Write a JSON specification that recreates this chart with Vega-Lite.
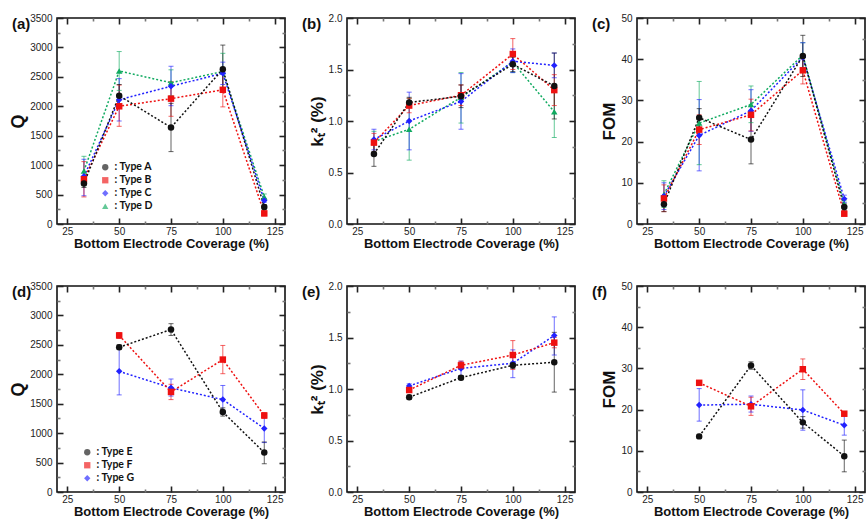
{
  "$schema": "https://vega.github.io/schema/vega-lite/v6.json",
  "background": "white",
  "padding": {"left": 8, "top": 12, "right": 0, "bottom": 0},
  "config": {
    "view": {"stroke": "#111", "strokeWidth": 1.6},
    "font": "Liberation Sans",
    "axis": {"domain": false, "grid": false, "ticks": true, "tickColor": "#222", "tickWidth": 1.6, "zindex": 1, "labelFont": "Liberation Sans", "labelFontSize": 10, "labelColor": "#222", "labelFlush": false, "labelOverlap": false, "titleFont": "Liberation Sans", "titleFontWeight": "bold", "titleColor": "#111"},
    "axisBottom": {"labelPadding": 2, "titleFontSize": 13, "titlePadding": 1},
    "axisLeft": {"labelPadding": 5, "titleFontSize": 18, "titlePadding": 2},
    "title": {"font": "Liberation Sans", "fontSize": 15, "fontWeight": "bold", "anchor": "start", "frame": "group", "offset": -12, "dx": -45, "dy": 7, "baseline": "alphabetic", "color": "#111"},
    "legend": {"labelFont": "Lato", "labelFontWeight": "bold", "labelFontSize": 10.5, "labelColor": "#111", "rowPadding": 2, "symbolSize": 40, "symbolStrokeWidth": 0}
  },
  "data": {"values": [
    {"p":"a","t":"Type D","x":33,"y":900,"lo":650,"hi":1150},
    {"p":"a","t":"Type D","x":50,"y":2600,"lo":2270,"hi":2930},
    {"p":"a","t":"Type D","x":75,"y":2400,"lo":2180,"hi":2620},
    {"p":"a","t":"Type D","x":100,"y":2590,"lo":2280,"hi":2900},
    {"p":"a","t":"Type D","x":120,"y":460,"lo":420,"hi":510},
    {"p":"a","t":"Type C","x":33,"y":810,"lo":480,"hi":1100},
    {"p":"a","t":"Type C","x":50,"y":2110,"lo":1750,"hi":2470},
    {"p":"a","t":"Type C","x":75,"y":2340,"lo":2010,"hi":2680},
    {"p":"a","t":"Type C","x":100,"y":2560,"lo":2370,"hi":2750},
    {"p":"a","t":"Type C","x":120,"y":400,"lo":370,"hi":430},
    {"p":"a","t":"Type B","x":33,"y":760,"lo":460,"hi":1060},
    {"p":"a","t":"Type B","x":50,"y":2000,"lo":1660,"hi":2360},
    {"p":"a","t":"Type B","x":75,"y":2130,"lo":1830,"hi":2420},
    {"p":"a","t":"Type B","x":100,"y":2280,"lo":1990,"hi":2580},
    {"p":"a","t":"Type B","x":120,"y":180,"lo":140,"hi":220},
    {"p":"a","t":"Type A","x":33,"y":690,"lo":620,"hi":760},
    {"p":"a","t":"Type A","x":50,"y":2180,"lo":1990,"hi":2370},
    {"p":"a","t":"Type A","x":75,"y":1640,"lo":1230,"hi":2050},
    {"p":"a","t":"Type A","x":100,"y":2630,"lo":2250,"hi":3040},
    {"p":"a","t":"Type A","x":120,"y":290,"lo":250,"hi":330},
    {"p":"b","t":"Type D","x":33,"y":0.80,"lo":0.70,"hi":0.90},
    {"p":"b","t":"Type D","x":50,"y":0.92,"lo":0.62,"hi":1.22},
    {"p":"b","t":"Type D","x":75,"y":1.23,"lo":0.98,"hi":1.47},
    {"p":"b","t":"Type D","x":100,"y":1.57,"lo":1.47,"hi":1.67},
    {"p":"b","t":"Type D","x":120,"y":1.09,"lo":0.84,"hi":1.32},
    {"p":"b","t":"Type C","x":33,"y":0.82,"lo":0.72,"hi":0.92},
    {"p":"b","t":"Type C","x":50,"y":1.00,"lo":0.72,"hi":1.28},
    {"p":"b","t":"Type C","x":75,"y":1.19,"lo":0.92,"hi":1.46},
    {"p":"b","t":"Type C","x":100,"y":1.58,"lo":1.47,"hi":1.70},
    {"p":"b","t":"Type C","x":120,"y":1.54,"lo":1.42,"hi":1.66},
    {"p":"b","t":"Type B","x":33,"y":0.79,"lo":0.70,"hi":0.88},
    {"p":"b","t":"Type B","x":50,"y":1.15,"lo":1.08,"hi":1.22},
    {"p":"b","t":"Type B","x":75,"y":1.25,"lo":1.15,"hi":1.35},
    {"p":"b","t":"Type B","x":100,"y":1.65,"lo":1.50,"hi":1.80},
    {"p":"b","t":"Type B","x":120,"y":1.30,"lo":1.15,"hi":1.45},
    {"p":"b","t":"Type A","x":33,"y":0.68,"lo":0.56,"hi":0.80},
    {"p":"b","t":"Type A","x":50,"y":1.18,"lo":1.13,"hi":1.23},
    {"p":"b","t":"Type A","x":75,"y":1.24,"lo":1.13,"hi":1.35},
    {"p":"b","t":"Type A","x":100,"y":1.55,"lo":1.48,"hi":1.62},
    {"p":"b","t":"Type A","x":120,"y":1.34,"lo":1.02,"hi":1.66},
    {"p":"c","t":"Type D","x":33,"y":7.2,"lo":4.0,"hi":10.5},
    {"p":"c","t":"Type D","x":50,"y":24.5,"lo":14.4,"hi":34.6},
    {"p":"c","t":"Type D","x":75,"y":29.0,"lo":24.6,"hi":33.5},
    {"p":"c","t":"Type D","x":100,"y":41.0,"lo":38.0,"hi":44.0},
    {"p":"c","t":"Type D","x":120,"y":4.8,"lo":4.0,"hi":5.6},
    {"p":"c","t":"Type C","x":33,"y":6.8,"lo":3.5,"hi":10.0},
    {"p":"c","t":"Type C","x":50,"y":21.5,"lo":12.9,"hi":30.2},
    {"p":"c","t":"Type C","x":75,"y":27.5,"lo":22.5,"hi":32.6},
    {"p":"c","t":"Type C","x":100,"y":40.5,"lo":37.0,"hi":44.0},
    {"p":"c","t":"Type C","x":120,"y":6.1,"lo":5.2,"hi":7.0},
    {"p":"c","t":"Type B","x":33,"y":6.2,"lo":3.0,"hi":9.5},
    {"p":"c","t":"Type B","x":50,"y":22.9,"lo":19.3,"hi":26.5},
    {"p":"c","t":"Type B","x":75,"y":26.5,"lo":22.6,"hi":30.3},
    {"p":"c","t":"Type B","x":100,"y":37.3,"lo":34.0,"hi":40.5},
    {"p":"c","t":"Type B","x":120,"y":2.5,"lo":2.0,"hi":3.0},
    {"p":"c","t":"Type A","x":33,"y":4.8,"lo":3.0,"hi":6.5},
    {"p":"c","t":"Type A","x":50,"y":25.8,"lo":23.5,"hi":28.0},
    {"p":"c","t":"Type A","x":75,"y":20.5,"lo":14.6,"hi":26.3},
    {"p":"c","t":"Type A","x":100,"y":40.8,"lo":35.8,"hi":45.8},
    {"p":"c","t":"Type A","x":120,"y":4.1,"lo":3.3,"hi":4.9},
    {"p":"d","t":"Type G","x":50,"y":2050,"lo":1650,"hi":2440},
    {"p":"d","t":"Type G","x":75,"y":1770,"lo":1630,"hi":1920},
    {"p":"d","t":"Type G","x":100,"y":1570,"lo":1330,"hi":1810},
    {"p":"d","t":"Type G","x":120,"y":1080,"lo":840,"hi":1320},
    {"p":"d","t":"Type F","x":50,"y":2660,"lo":2610,"hi":2710},
    {"p":"d","t":"Type F","x":75,"y":1700,"lo":1570,"hi":1830},
    {"p":"d","t":"Type F","x":100,"y":2250,"lo":2010,"hi":2490},
    {"p":"d","t":"Type F","x":120,"y":1300,"lo":1250,"hi":1350},
    {"p":"d","t":"Type E","x":50,"y":2460,"lo":2420,"hi":2500},
    {"p":"d","t":"Type E","x":75,"y":2760,"lo":2660,"hi":2860},
    {"p":"d","t":"Type E","x":100,"y":1360,"lo":1290,"hi":1430},
    {"p":"d","t":"Type E","x":120,"y":670,"lo":480,"hi":850},
    {"p":"e","t":"Type G","x":50,"y":1.03,"lo":1.01,"hi":1.05},
    {"p":"e","t":"Type G","x":75,"y":1.20,"lo":1.13,"hi":1.27},
    {"p":"e","t":"Type G","x":100,"y":1.25,"lo":1.11,"hi":1.38},
    {"p":"e","t":"Type G","x":120,"y":1.52,"lo":1.33,"hi":1.70},
    {"p":"e","t":"Type F","x":50,"y":0.99,"lo":0.97,"hi":1.01},
    {"p":"e","t":"Type F","x":75,"y":1.23,"lo":1.19,"hi":1.27},
    {"p":"e","t":"Type F","x":100,"y":1.33,"lo":1.19,"hi":1.47},
    {"p":"e","t":"Type F","x":120,"y":1.45,"lo":1.40,"hi":1.50},
    {"p":"e","t":"Type E","x":50,"y":0.92,"lo":0.90,"hi":0.94},
    {"p":"e","t":"Type E","x":75,"y":1.11,"lo":1.09,"hi":1.13},
    {"p":"e","t":"Type E","x":100,"y":1.23,"lo":1.20,"hi":1.26},
    {"p":"e","t":"Type E","x":120,"y":1.26,"lo":0.97,"hi":1.55},
    {"p":"f","t":"Type G","x":50,"y":21.1,"lo":17.2,"hi":25.1},
    {"p":"f","t":"Type G","x":75,"y":21.3,"lo":19.4,"hi":23.3},
    {"p":"f","t":"Type G","x":100,"y":19.9,"lo":15.0,"hi":24.8},
    {"p":"f","t":"Type G","x":120,"y":16.2,"lo":13.8,"hi":18.6},
    {"p":"f","t":"Type F","x":50,"y":26.5,"lo":26.0,"hi":27.0},
    {"p":"f","t":"Type F","x":75,"y":20.8,"lo":18.6,"hi":23.0},
    {"p":"f","t":"Type F","x":100,"y":29.8,"lo":27.3,"hi":32.3},
    {"p":"f","t":"Type F","x":120,"y":19.0,"lo":18.5,"hi":19.5},
    {"p":"f","t":"Type E","x":50,"y":13.5,"lo":13.0,"hi":14.0},
    {"p":"f","t":"Type E","x":75,"y":30.7,"lo":29.8,"hi":31.6},
    {"p":"f","t":"Type E","x":100,"y":16.9,"lo":15.5,"hi":18.3},
    {"p":"f","t":"Type E","x":120,"y":8.7,"lo":4.9,"hi":12.6}
  ]},
  "columns": 3,
  "spacing": 62,
  "bounds": "flush",
  "resolve": {"scale": {"x": "independent", "y": "independent", "color": "independent", "shape": "independent"}},
  "concat": [
    {
      "width": 228, "height": 206, "title": "(a)",
      "transform": [{"filter": "datum.p == 'a'"}],
      "resolve": {"axis": {"x": "independent", "y": "independent"}},
      "layer": [
        {"mark": {"type": "rule", "strokeWidth": 1, "opacity": 0.65},
         "encoding": {
           "x": {"field": "x", "type": "quantitative", "scale": {"domain": [25, 125]}, "axis": {"orient": "bottom", "title": "Bottom Electrode Coverage (%)", "values": [25, 50, 75, 100, 125], "tickSize": 6, "offset": -6}},
           "y": {"field": "lo", "type": "quantitative", "scale": {"domain": [0, 3500]}, "axis": {"orient": "left", "title": "Q", "format": "d", "values": [0, 500, 1000, 1500, 2000, 2500, 3000, 3500], "tickSize": 6, "offset": -6}},
           "y2": {"field": "hi"},
           "color": {"field": "t", "type": "nominal", "scale": {"domain": ["Type A", "Type B", "Type C", "Type D"], "range": ["#111111", "#ee1111", "#2222ff", "#10aa60"]}, "legend": {"title": null, "orient": "none", "legendX": 43, "legendY": 144, "labelExpr": "': ' + datum.label"}}
         }},
        {"mark": {"type": "tick", "orient": "horizontal", "size": 5, "thickness": 1, "opacity": 0.65},
         "encoding": {
           "x": {"field": "x", "type": "quantitative", "axis": {"orient": "top", "title": null, "labels": false, "values": [25, 50, 75, 100, 125], "tickSize": 6, "offset": -6}},
           "y": {"field": "lo", "type": "quantitative", "axis": {"orient": "right", "title": null, "labels": false, "values": [0, 500, 1000, 1500, 2000, 2500, 3000, 3500], "tickSize": 6, "offset": -6}},
           "color": {"field": "t", "type": "nominal", "legend": {"title": null, "orient": "none", "legendX": 43, "legendY": 144, "labelExpr": "': ' + datum.label"}}
         }},
        {"mark": {"type": "tick", "orient": "horizontal", "size": 5, "thickness": 1, "opacity": 0.65},
         "encoding": {
           "x": {"field": "x", "type": "quantitative", "axis": {"orient": "bottom", "title": null, "labels": false, "values": [37.5, 62.5, 87.5, 112.5], "tickSize": 3, "offset": -3, "tickColor": "#777"}},
           "y": {"field": "hi", "type": "quantitative", "axis": {"orient": "left", "title": null, "labels": false, "values": [250, 750, 1250, 1750, 2250, 2750, 3250], "tickSize": 3, "offset": -3, "tickColor": "#777"}},
           "color": {"field": "t", "type": "nominal", "legend": {"title": null, "orient": "none", "legendX": 43, "legendY": 144, "labelExpr": "': ' + datum.label"}}
         }},
        {"mark": {"type": "line", "strokeDash": [2, 2], "strokeWidth": 1.5},
         "encoding": {
           "x": {"field": "x", "type": "quantitative", "axis": {"orient": "top", "title": null, "labels": false, "values": [37.5, 62.5, 87.5, 112.5], "tickSize": 3, "offset": -3, "tickColor": "#777"}},
           "y": {"field": "y", "type": "quantitative", "axis": {"orient": "right", "title": null, "labels": false, "values": [250, 750, 1250, 1750, 2250, 2750, 3250], "tickSize": 3, "offset": -3, "tickColor": "#777"}},
           "color": {"field": "t", "type": "nominal", "legend": {"title": null, "orient": "none", "legendX": 43, "legendY": 144, "labelExpr": "': ' + datum.label"}}
         }},
        {"mark": {"type": "point", "filled": true, "opacity": 1, "size": 42},
         "encoding": {
           "x": {"field": "x", "type": "quantitative", "axis": null},
           "y": {"field": "y", "type": "quantitative", "axis": null},
           "color": {"field": "t", "type": "nominal", "legend": {"title": null, "orient": "none", "legendX": 43, "legendY": 144, "labelExpr": "': ' + datum.label"}},
           "shape": {"field": "t", "type": "nominal", "scale": {"domain": ["Type A", "Type B", "Type C", "Type D"], "range": ["circle", "square", "diamond", "triangle-up"]}, "legend": {"title": null, "orient": "none", "legendX": 43, "legendY": 144, "labelExpr": "': ' + datum.label"}}
         }}
      ]
    },
    {
      "width": 228, "height": 206, "title": "(b)",
      "transform": [{"filter": "datum.p == 'b'"}],
      "resolve": {"axis": {"x": "independent", "y": "independent"}},
      "layer": [
        {"mark": {"type": "rule", "strokeWidth": 1, "opacity": 0.65},
         "encoding": {
           "x": {"field": "x", "type": "quantitative", "scale": {"domain": [25, 125]}, "axis": {"orient": "bottom", "title": "Bottom Electrode Coverage (%)", "values": [25, 50, 75, 100, 125], "tickSize": 6, "offset": -6}},
           "y": {"field": "lo", "type": "quantitative", "scale": {"domain": [0, 2]}, "axis": {"orient": "left", "title": "kₜ² (%)", "titleFontSize": 17, "format": ".1f", "values": [0, 0.5, 1, 1.5, 2], "tickSize": 6, "offset": -6}},
           "y2": {"field": "hi"},
           "color": {"field": "t", "type": "nominal", "scale": {"domain": ["Type A", "Type B", "Type C", "Type D"], "range": ["#111111", "#ee1111", "#2222ff", "#10aa60"]}, "legend": null}
         }},
        {"mark": {"type": "tick", "orient": "horizontal", "size": 5, "thickness": 1, "opacity": 0.65},
         "encoding": {
           "x": {"field": "x", "type": "quantitative", "axis": {"orient": "top", "title": null, "labels": false, "values": [25, 50, 75, 100, 125], "tickSize": 6, "offset": -6}},
           "y": {"field": "lo", "type": "quantitative", "axis": {"orient": "right", "title": null, "labels": false, "values": [0, 0.5, 1, 1.5, 2], "tickSize": 6, "offset": -6}},
           "color": {"field": "t", "type": "nominal", "legend": null}
         }},
        {"mark": {"type": "tick", "orient": "horizontal", "size": 5, "thickness": 1, "opacity": 0.65},
         "encoding": {
           "x": {"field": "x", "type": "quantitative", "axis": {"orient": "bottom", "title": null, "labels": false, "values": [37.5, 62.5, 87.5, 112.5], "tickSize": 3, "offset": -3, "tickColor": "#777"}},
           "y": {"field": "hi", "type": "quantitative", "axis": {"orient": "left", "title": null, "labels": false, "values": [0.25, 0.75, 1.25, 1.75], "tickSize": 3, "offset": -3, "tickColor": "#777"}},
           "color": {"field": "t", "type": "nominal", "legend": null}
         }},
        {"mark": {"type": "line", "strokeDash": [2, 2], "strokeWidth": 1.5},
         "encoding": {
           "x": {"field": "x", "type": "quantitative", "axis": {"orient": "top", "title": null, "labels": false, "values": [37.5, 62.5, 87.5, 112.5], "tickSize": 3, "offset": -3, "tickColor": "#777"}},
           "y": {"field": "y", "type": "quantitative", "axis": {"orient": "right", "title": null, "labels": false, "values": [0.25, 0.75, 1.25, 1.75], "tickSize": 3, "offset": -3, "tickColor": "#777"}},
           "color": {"field": "t", "type": "nominal", "legend": null}
         }},
        {"mark": {"type": "point", "filled": true, "opacity": 1, "size": 42},
         "encoding": {
           "x": {"field": "x", "type": "quantitative", "axis": null},
           "y": {"field": "y", "type": "quantitative", "axis": null},
           "color": {"field": "t", "type": "nominal", "legend": null},
           "shape": {"field": "t", "type": "nominal", "scale": {"domain": ["Type A", "Type B", "Type C", "Type D"], "range": ["circle", "square", "diamond", "triangle-up"]}, "legend": null}
         }}
      ]
    },
    {
      "width": 228, "height": 206, "title": "(c)",
      "transform": [{"filter": "datum.p == 'c'"}],
      "resolve": {"axis": {"x": "independent", "y": "independent"}},
      "layer": [
        {"mark": {"type": "rule", "strokeWidth": 1, "opacity": 0.65},
         "encoding": {
           "x": {"field": "x", "type": "quantitative", "scale": {"domain": [25, 125]}, "axis": {"orient": "bottom", "title": "Bottom Electrode Coverage (%)", "values": [25, 50, 75, 100, 125], "tickSize": 6, "offset": -6}},
           "y": {"field": "lo", "type": "quantitative", "scale": {"domain": [0, 50]}, "axis": {"orient": "left", "title": "FOM", "titleFontSize": 17, "values": [0, 10, 20, 30, 40, 50], "tickSize": 6, "offset": -6}},
           "y2": {"field": "hi"},
           "color": {"field": "t", "type": "nominal", "scale": {"domain": ["Type A", "Type B", "Type C", "Type D"], "range": ["#111111", "#ee1111", "#2222ff", "#10aa60"]}, "legend": null}
         }},
        {"mark": {"type": "tick", "orient": "horizontal", "size": 5, "thickness": 1, "opacity": 0.65},
         "encoding": {
           "x": {"field": "x", "type": "quantitative", "axis": {"orient": "top", "title": null, "labels": false, "values": [25, 50, 75, 100, 125], "tickSize": 6, "offset": -6}},
           "y": {"field": "lo", "type": "quantitative", "axis": {"orient": "right", "title": null, "labels": false, "values": [0, 10, 20, 30, 40, 50], "tickSize": 6, "offset": -6}},
           "color": {"field": "t", "type": "nominal", "legend": null}
         }},
        {"mark": {"type": "tick", "orient": "horizontal", "size": 5, "thickness": 1, "opacity": 0.65},
         "encoding": {
           "x": {"field": "x", "type": "quantitative", "axis": {"orient": "bottom", "title": null, "labels": false, "values": [37.5, 62.5, 87.5, 112.5], "tickSize": 3, "offset": -3, "tickColor": "#777"}},
           "y": {"field": "hi", "type": "quantitative", "axis": {"orient": "left", "title": null, "labels": false, "values": [5, 15, 25, 35, 45], "tickSize": 3, "offset": -3, "tickColor": "#777"}},
           "color": {"field": "t", "type": "nominal", "legend": null}
         }},
        {"mark": {"type": "line", "strokeDash": [2, 2], "strokeWidth": 1.5},
         "encoding": {
           "x": {"field": "x", "type": "quantitative", "axis": {"orient": "top", "title": null, "labels": false, "values": [37.5, 62.5, 87.5, 112.5], "tickSize": 3, "offset": -3, "tickColor": "#777"}},
           "y": {"field": "y", "type": "quantitative", "axis": {"orient": "right", "title": null, "labels": false, "values": [5, 15, 25, 35, 45], "tickSize": 3, "offset": -3, "tickColor": "#777"}},
           "color": {"field": "t", "type": "nominal", "legend": null}
         }},
        {"mark": {"type": "point", "filled": true, "opacity": 1, "size": 42},
         "encoding": {
           "x": {"field": "x", "type": "quantitative", "axis": null},
           "y": {"field": "y", "type": "quantitative", "axis": null},
           "color": {"field": "t", "type": "nominal", "legend": null},
           "shape": {"field": "t", "type": "nominal", "scale": {"domain": ["Type A", "Type B", "Type C", "Type D"], "range": ["circle", "square", "diamond", "triangle-up"]}, "legend": null}
         }}
      ]
    },
    {
      "width": 228, "height": 206, "title": "(d)",
      "transform": [{"filter": "datum.p == 'd'"}],
      "resolve": {"axis": {"x": "independent", "y": "independent"}},
      "layer": [
        {"mark": {"type": "rule", "strokeWidth": 1, "opacity": 0.65},
         "encoding": {
           "x": {"field": "x", "type": "quantitative", "scale": {"domain": [25, 125]}, "axis": {"orient": "bottom", "title": "Bottom Electrode Coverage (%)", "values": [25, 50, 75, 100, 125], "tickSize": 6, "offset": -6}},
           "y": {"field": "lo", "type": "quantitative", "scale": {"domain": [0, 3500]}, "axis": {"orient": "left", "title": "Q", "format": "d", "values": [0, 500, 1000, 1500, 2000, 2500, 3000, 3500], "tickSize": 6, "offset": -6}},
           "y2": {"field": "hi"},
           "color": {"field": "t", "type": "nominal", "scale": {"domain": ["Type E", "Type F", "Type G"], "range": ["#111111", "#ee1111", "#2222ff"]}, "legend": {"title": null, "orient": "none", "legendX": 25, "legendY": 161, "labelExpr": "': ' + datum.label"}}
         }},
        {"mark": {"type": "tick", "orient": "horizontal", "size": 5, "thickness": 1, "opacity": 0.65},
         "encoding": {
           "x": {"field": "x", "type": "quantitative", "axis": {"orient": "top", "title": null, "labels": false, "values": [25, 50, 75, 100, 125], "tickSize": 6, "offset": -6}},
           "y": {"field": "lo", "type": "quantitative", "axis": {"orient": "right", "title": null, "labels": false, "values": [0, 500, 1000, 1500, 2000, 2500, 3000, 3500], "tickSize": 6, "offset": -6}},
           "color": {"field": "t", "type": "nominal", "legend": {"title": null, "orient": "none", "legendX": 25, "legendY": 161, "labelExpr": "': ' + datum.label"}}
         }},
        {"mark": {"type": "tick", "orient": "horizontal", "size": 5, "thickness": 1, "opacity": 0.65},
         "encoding": {
           "x": {"field": "x", "type": "quantitative", "axis": {"orient": "bottom", "title": null, "labels": false, "values": [37.5, 62.5, 87.5, 112.5], "tickSize": 3, "offset": -3, "tickColor": "#777"}},
           "y": {"field": "hi", "type": "quantitative", "axis": {"orient": "left", "title": null, "labels": false, "values": [250, 750, 1250, 1750, 2250, 2750, 3250], "tickSize": 3, "offset": -3, "tickColor": "#777"}},
           "color": {"field": "t", "type": "nominal", "legend": {"title": null, "orient": "none", "legendX": 25, "legendY": 161, "labelExpr": "': ' + datum.label"}}
         }},
        {"mark": {"type": "line", "strokeDash": [2, 2], "strokeWidth": 1.5},
         "encoding": {
           "x": {"field": "x", "type": "quantitative", "axis": {"orient": "top", "title": null, "labels": false, "values": [37.5, 62.5, 87.5, 112.5], "tickSize": 3, "offset": -3, "tickColor": "#777"}},
           "y": {"field": "y", "type": "quantitative", "axis": {"orient": "right", "title": null, "labels": false, "values": [250, 750, 1250, 1750, 2250, 2750, 3250], "tickSize": 3, "offset": -3, "tickColor": "#777"}},
           "color": {"field": "t", "type": "nominal", "legend": {"title": null, "orient": "none", "legendX": 25, "legendY": 161, "labelExpr": "': ' + datum.label"}}
         }},
        {"mark": {"type": "point", "filled": true, "opacity": 1, "size": 42},
         "encoding": {
           "x": {"field": "x", "type": "quantitative", "axis": null},
           "y": {"field": "y", "type": "quantitative", "axis": null},
           "color": {"field": "t", "type": "nominal", "legend": {"title": null, "orient": "none", "legendX": 25, "legendY": 161, "labelExpr": "': ' + datum.label"}},
           "shape": {"field": "t", "type": "nominal", "scale": {"domain": ["Type E", "Type F", "Type G"], "range": ["circle", "square", "diamond"]}, "legend": {"title": null, "orient": "none", "legendX": 25, "legendY": 161, "labelExpr": "': ' + datum.label"}}
         }}
      ]
    },
    {
      "width": 228, "height": 206, "title": "(e)",
      "transform": [{"filter": "datum.p == 'e'"}],
      "resolve": {"axis": {"x": "independent", "y": "independent"}},
      "layer": [
        {"mark": {"type": "rule", "strokeWidth": 1, "opacity": 0.65},
         "encoding": {
           "x": {"field": "x", "type": "quantitative", "scale": {"domain": [25, 125]}, "axis": {"orient": "bottom", "title": "Bottom Electrode Coverage (%)", "values": [25, 50, 75, 100, 125], "tickSize": 6, "offset": -6}},
           "y": {"field": "lo", "type": "quantitative", "scale": {"domain": [0, 2]}, "axis": {"orient": "left", "title": "kₜ² (%)", "titleFontSize": 17, "format": ".1f", "values": [0, 0.5, 1, 1.5, 2], "tickSize": 6, "offset": -6}},
           "y2": {"field": "hi"},
           "color": {"field": "t", "type": "nominal", "scale": {"domain": ["Type E", "Type F", "Type G"], "range": ["#111111", "#ee1111", "#2222ff"]}, "legend": null}
         }},
        {"mark": {"type": "tick", "orient": "horizontal", "size": 5, "thickness": 1, "opacity": 0.65},
         "encoding": {
           "x": {"field": "x", "type": "quantitative", "axis": {"orient": "top", "title": null, "labels": false, "values": [25, 50, 75, 100, 125], "tickSize": 6, "offset": -6}},
           "y": {"field": "lo", "type": "quantitative", "axis": {"orient": "right", "title": null, "labels": false, "values": [0, 0.5, 1, 1.5, 2], "tickSize": 6, "offset": -6}},
           "color": {"field": "t", "type": "nominal", "legend": null}
         }},
        {"mark": {"type": "tick", "orient": "horizontal", "size": 5, "thickness": 1, "opacity": 0.65},
         "encoding": {
           "x": {"field": "x", "type": "quantitative", "axis": {"orient": "bottom", "title": null, "labels": false, "values": [37.5, 62.5, 87.5, 112.5], "tickSize": 3, "offset": -3, "tickColor": "#777"}},
           "y": {"field": "hi", "type": "quantitative", "axis": {"orient": "left", "title": null, "labels": false, "values": [0.25, 0.75, 1.25, 1.75], "tickSize": 3, "offset": -3, "tickColor": "#777"}},
           "color": {"field": "t", "type": "nominal", "legend": null}
         }},
        {"mark": {"type": "line", "strokeDash": [2, 2], "strokeWidth": 1.5},
         "encoding": {
           "x": {"field": "x", "type": "quantitative", "axis": {"orient": "top", "title": null, "labels": false, "values": [37.5, 62.5, 87.5, 112.5], "tickSize": 3, "offset": -3, "tickColor": "#777"}},
           "y": {"field": "y", "type": "quantitative", "axis": {"orient": "right", "title": null, "labels": false, "values": [0.25, 0.75, 1.25, 1.75], "tickSize": 3, "offset": -3, "tickColor": "#777"}},
           "color": {"field": "t", "type": "nominal", "legend": null}
         }},
        {"mark": {"type": "point", "filled": true, "opacity": 1, "size": 42},
         "encoding": {
           "x": {"field": "x", "type": "quantitative", "axis": null},
           "y": {"field": "y", "type": "quantitative", "axis": null},
           "color": {"field": "t", "type": "nominal", "legend": null},
           "shape": {"field": "t", "type": "nominal", "scale": {"domain": ["Type E", "Type F", "Type G"], "range": ["circle", "square", "diamond"]}, "legend": null}
         }}
      ]
    },
    {
      "width": 228, "height": 206, "title": "(f)",
      "transform": [{"filter": "datum.p == 'f'"}],
      "resolve": {"axis": {"x": "independent", "y": "independent"}},
      "layer": [
        {"mark": {"type": "rule", "strokeWidth": 1, "opacity": 0.65},
         "encoding": {
           "x": {"field": "x", "type": "quantitative", "scale": {"domain": [25, 125]}, "axis": {"orient": "bottom", "title": "Bottom Electrode Coverage (%)", "values": [25, 50, 75, 100, 125], "tickSize": 6, "offset": -6}},
           "y": {"field": "lo", "type": "quantitative", "scale": {"domain": [0, 50]}, "axis": {"orient": "left", "title": "FOM", "titleFontSize": 17, "values": [0, 10, 20, 30, 40, 50], "tickSize": 6, "offset": -6}},
           "y2": {"field": "hi"},
           "color": {"field": "t", "type": "nominal", "scale": {"domain": ["Type E", "Type F", "Type G"], "range": ["#111111", "#ee1111", "#2222ff"]}, "legend": null}
         }},
        {"mark": {"type": "tick", "orient": "horizontal", "size": 5, "thickness": 1, "opacity": 0.65},
         "encoding": {
           "x": {"field": "x", "type": "quantitative", "axis": {"orient": "top", "title": null, "labels": false, "values": [25, 50, 75, 100, 125], "tickSize": 6, "offset": -6}},
           "y": {"field": "lo", "type": "quantitative", "axis": {"orient": "right", "title": null, "labels": false, "values": [0, 10, 20, 30, 40, 50], "tickSize": 6, "offset": -6}},
           "color": {"field": "t", "type": "nominal", "legend": null}
         }},
        {"mark": {"type": "tick", "orient": "horizontal", "size": 5, "thickness": 1, "opacity": 0.65},
         "encoding": {
           "x": {"field": "x", "type": "quantitative", "axis": {"orient": "bottom", "title": null, "labels": false, "values": [37.5, 62.5, 87.5, 112.5], "tickSize": 3, "offset": -3, "tickColor": "#777"}},
           "y": {"field": "hi", "type": "quantitative", "axis": {"orient": "left", "title": null, "labels": false, "values": [5, 15, 25, 35, 45], "tickSize": 3, "offset": -3, "tickColor": "#777"}},
           "color": {"field": "t", "type": "nominal", "legend": null}
         }},
        {"mark": {"type": "line", "strokeDash": [2, 2], "strokeWidth": 1.5},
         "encoding": {
           "x": {"field": "x", "type": "quantitative", "axis": {"orient": "top", "title": null, "labels": false, "values": [37.5, 62.5, 87.5, 112.5], "tickSize": 3, "offset": -3, "tickColor": "#777"}},
           "y": {"field": "y", "type": "quantitative", "axis": {"orient": "right", "title": null, "labels": false, "values": [5, 15, 25, 35, 45], "tickSize": 3, "offset": -3, "tickColor": "#777"}},
           "color": {"field": "t", "type": "nominal", "legend": null}
         }},
        {"mark": {"type": "point", "filled": true, "opacity": 1, "size": 42},
         "encoding": {
           "x": {"field": "x", "type": "quantitative", "axis": null},
           "y": {"field": "y", "type": "quantitative", "axis": null},
           "color": {"field": "t", "type": "nominal", "legend": null},
           "shape": {"field": "t", "type": "nominal", "scale": {"domain": ["Type E", "Type F", "Type G"], "range": ["circle", "square", "diamond"]}, "legend": null}
         }}
      ]
    }
  ]
}
